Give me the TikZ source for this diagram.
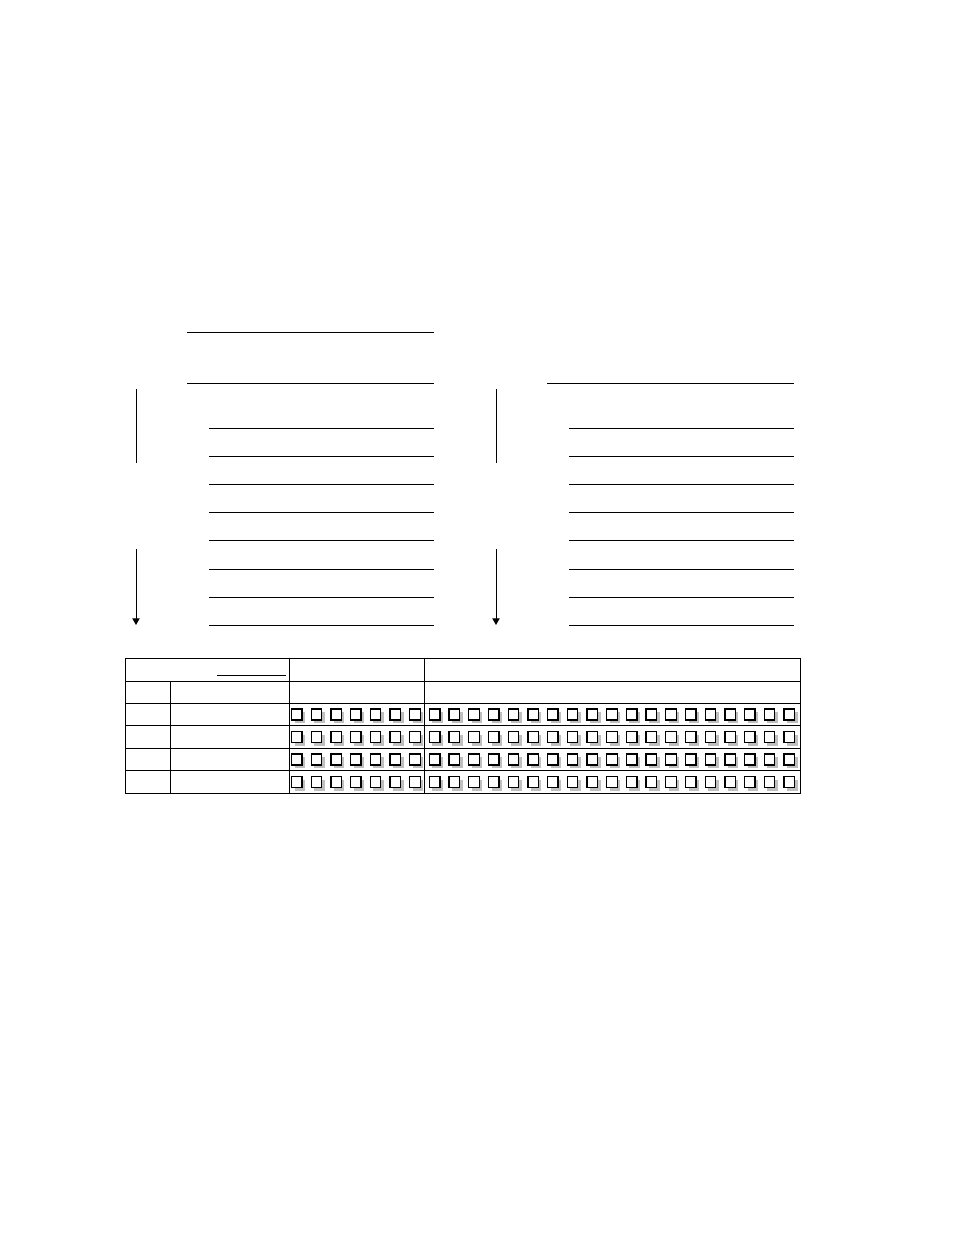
\documentclass[tikz,border=0pt]{standalone}
\usetikzlibrary{arrows.meta}
\begin{document}
\begin{tikzpicture}[x=0.75pt, y=-0.75pt, line width=0.75pt,
	arr/.style = {-{Triangle[width=5.5pt, length=5pt]}},
	chkbox/.style = {draw, fill=white, line width=1pt},
	chkshade/.style = {fill=black!25}]
		\useasboundingbox (0,0) rectangle (954,1235);
		% Vasen lohko
		\draw (187,332) -- (434,332);
		\draw (187,383) -- (434,383);
		\foreach \y in {428,456,484,512,540,569,597,625}
			\draw (209,\y) -- (434,\y);
		\coordinate (la1) at (136,389);
		\coordinate (la2) at (136,463);
		\coordinate (la3) at (136,549);
		\coordinate (la4) at (136,625);
		\draw (la1) -- (la2);
		\draw [arr] (la3) -- (la4);
		% Oikea lohko
		\draw (547,383) -- (794,383);
		\foreach \y in {428,456,484,512,540,569,597,625}
			\draw (569,\y) -- (794,\y);
		\coordinate (ra1) at (496,389);
		\coordinate (ra2) at (496,463);
		\coordinate (ra3) at (496,549);
		\coordinate (ra4) at (496,625);
		\draw (ra1) -- (ra2);
		\draw [arr] (ra3) -- (ra4);
		% Taulukko
		\draw (125,658) rectangle (800,793);
		\draw (289,658) -- (289,793);			% sarake 3
		\draw (424,658) -- (424,793);			% sarake 4
		\draw (170,681) -- (170,793);			% sarake 2
		\draw (217,675) -- (286,675);			% otsikon viiva
		\foreach \y in {681,703,725.5,748,770.5}
			\draw (125,\y) -- (800,\y);
		% Ruudut
		\foreach \r in {0,...,3}
			\foreach \i in {0,...,25} {
				\fill [chkshade] ({294.5+19.7*\i},{712+22.5*\r}) rectangle +(10.5,11);
				\draw [chkbox] ({291.5+19.7*\i},{709+22.5*\r}) rectangle +(10.5,11);
			}
		\end{tikzpicture}
\end{document}
